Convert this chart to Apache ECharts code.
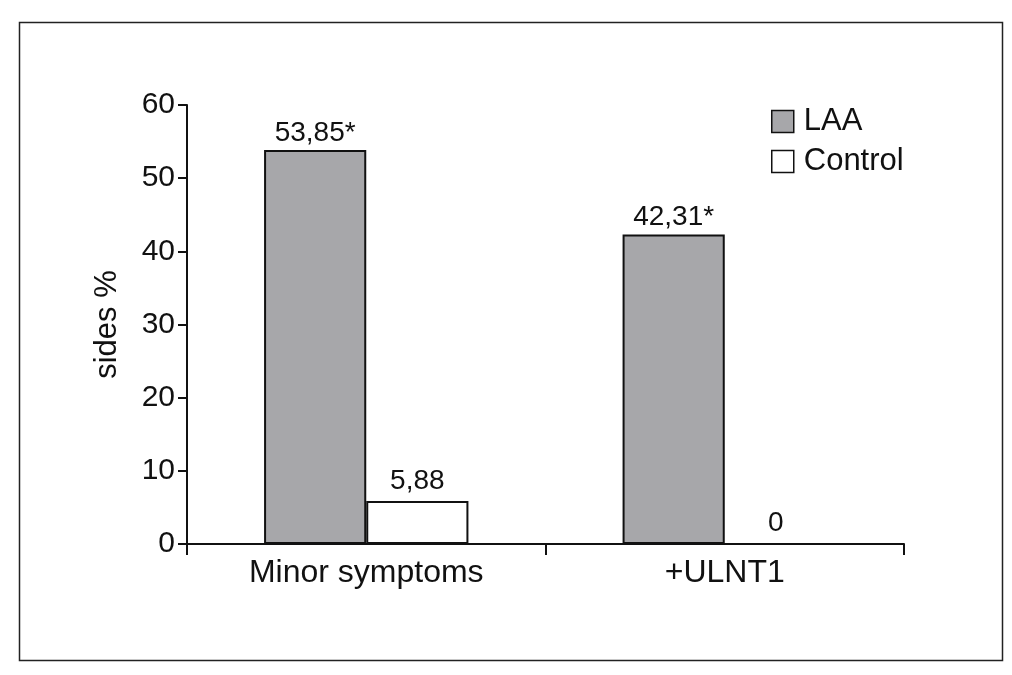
<!DOCTYPE html>
<html>
<head>
<meta charset="utf-8">
<script src="https://cdn.jsdelivr.net/npm/echarts@6/dist/echarts.min.js"></script>
<style>html,body{margin:0;padding:0;background:#fff;}#c{width:1012px;height:675px;}</style>
</head>
<body>
<div id="c"></div>
<script>
const categories = ["Minor symptoms", "+ULNT1"];
const laaValues = [53.85, 42.31];
const controlValues = [5.88, 0];
const laaLabels = ["53,85*", "42,31*"];
const controlLabels = ["5,88", "0"];
const yTicks = [0, 10, 20, 30, 40, 50, 60];

const chart = echarts.init(document.getElementById('c'));
const font = 'Liberation Sans, Arial, sans-serif';
chart.setOption({
  animation: false,
  backgroundColor: '#fff',
  graphic: [{
    type: 'rect', left: 17, top: 20,
    shape: {width: 983, height: 638},
    style: {fill: 'none', stroke: '#222', lineWidth: 1.5}
  }],
  grid: {left: 187, right: 108, top: 105, bottom: 131, containLabel: false},
  legend: {
    orient: 'vertical', left: 766, top: 101, itemGap: 9,
    itemWidth: 22, itemHeight: 22, icon: 'rect',
    textStyle: {fontFamily: font, fontSize: 31, color: '#111', padding: [0, 0, 0, 5]},
    data: [
      {name: 'LAA', itemStyle: {color: '#a7a7aa', borderColor: '#111', borderWidth: 1.5}},
      {name: 'Control', itemStyle: {color: '#fff', borderColor: '#111', borderWidth: 1.5}}
    ]
  },
  xAxis: {
    type: 'category', data: categories,
    axisLine: {lineStyle: {color: '#111', width: 2}},
    axisTick: {show: true, length: 11, lineStyle: {color: '#111', width: 2}},
    axisLabel: {fontFamily: font, fontSize: 32, color: '#111', margin: 13}
  },
  yAxis: {
    type: 'value', min: 0, max: 60, interval: 10,
    name: 'sides %', nameLocation: 'middle', nameGap: 64, nameRotate: 90,
    nameTextStyle: {fontFamily: font, fontSize: 31, color: '#111'},
    axisLine: {show: true, lineStyle: {color: '#111', width: 2}},
    axisTick: {show: true, length: 9, lineStyle: {color: '#111', width: 2}},
    axisLabel: {fontFamily: font, fontSize: 30, color: '#111', margin: 12,
      formatter: v => yTicks.includes(v) ? String(v) : ''},
    splitLine: {show: false}
  },
  series: [
    {
      name: 'LAA', type: 'bar', data: laaValues,
      barGap: '0%', barCategoryGap: '43%',
      itemStyle: {color: '#a7a7aa', borderColor: '#111', borderWidth: 2},
      label: {show: true, position: 'top', distance: 3, fontFamily: font, fontSize: 28, color: '#111',
        formatter: p => laaLabels[p.dataIndex]}
    },
    {
      name: 'Control', type: 'bar', data: controlValues,
      itemStyle: {color: '#fff', borderColor: '#111', borderWidth: 2},
      label: {show: true, position: 'top', distance: 6, fontFamily: font, fontSize: 28, color: '#111',
        formatter: p => controlLabels[p.dataIndex]}
    }
  ]
});
</script>
</body>
</html>
